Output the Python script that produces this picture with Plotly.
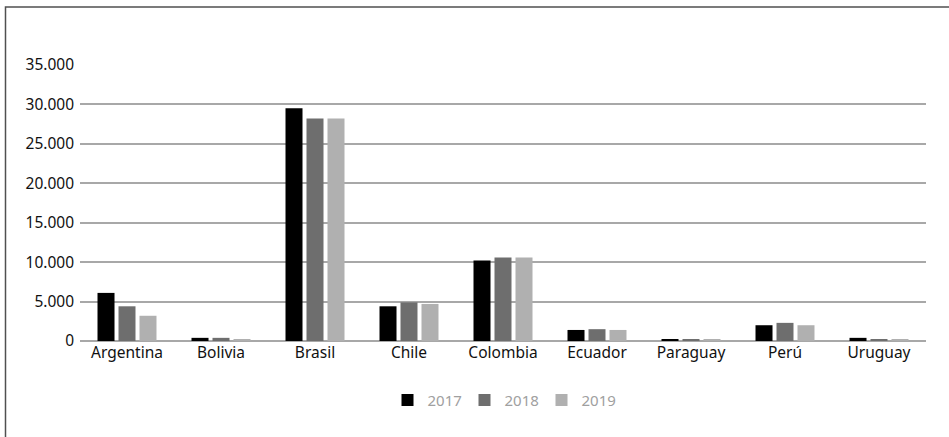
import plotly.graph_objects as go

countries = ["Argentina", "Bolivia", "Brasil", "Chile", "Colombia", "Ecuador", "Paraguay", "Perú", "Uruguay"]
v2017 = [6100, 400, 29500, 4400, 10200, 1400, 250, 2000, 400]
v2018 = [4400, 400, 28200, 4900, 10600, 1500, 200, 2300, 250]
v2019 = [3200, 250, 28200, 4700, 10600, 1400, 150, 2000, 200]
years = ["2017", "2018", "2019"]
colors = ["#000000", "#6e6e6e", "#b0b0b0"]

W, H = 949, 437
L, R, T, B = 80, 23, 65, 96
pw, ph = W - L - R, H - T - B

fig = go.Figure()
for name, vals, c in zip(years, [v2017, v2018, v2019], colors):
    fig.add_trace(go.Bar(name=name, x=countries, y=vals, marker=dict(color=c, line=dict(width=0))))

fig.update_layout(
    width=W, height=H,
    margin=dict(l=L, r=R, t=T, b=B),
    paper_bgcolor="white", plot_bgcolor="white",
    barmode="group", bargap=0.33, bargroupgap=0.19,
    separators=",.",
    font=dict(family="Noto Sans, Open Sans, sans-serif", size=15.5, color="#111111"),
    showlegend=True,
    legend=dict(orientation="h", x=0.5, xanchor="center", y=-0.215, yanchor="middle",
                font=dict(size=15, color="#a0a0a0"), itemwidth=30, entrywidth=32,
                traceorder="normal"),
    xaxis=dict(showgrid=False, showline=False, ticks="", tickfont=dict(size=15.5, color="#111111")),
    yaxis=dict(range=[0, 35000], dtick=5000, tickformat=",", showgrid=True,
               gridcolor="#a8a8a8", gridwidth=1.5, zeroline=True, zerolinecolor="#a8a8a8",
               zerolinewidth=1.5, showline=False, ticks="", ticklabelstandoff=5,
               tickfont=dict(size=15.5, color="#111111")),
    shapes=[dict(type="rect", xref="paper", yref="paper",
                 x0=(5.5 - L) / pw, x1=(W + 10 - L) / pw,
                 y0=(H - T - B - (H + 10 - T)) / ph, y1=(H - B - 7) / ph,
                 line=dict(color="#505050", width=1.5), fillcolor="rgba(0,0,0,0)", layer="below")],
)

fig.write_html("out.html")
